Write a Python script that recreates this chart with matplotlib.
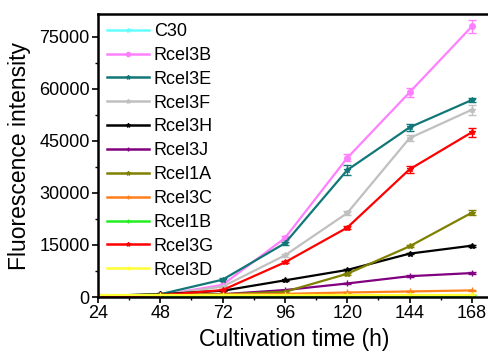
import numpy as np
import matplotlib.pyplot as plt
from matplotlib.lines import Line2D

plt.rcParams["font.family"] = ["Liberation Sans", "DejaVu Sans"]

# --- data ---
hours = [24, 48, 72, 96, 120, 144, 168]

c30 = [200, 200, 200, 200, 200, 200, 200]
rcel3b = [300, 500, 3500, 17000, 40100, 59000, 78000]
rcel3e = [300, 800, 5000, 15500, 36600, 48900, 56800]
rcel3f = [300, 500, 3000, 12000, 24200, 45800, 54000]
rcel3h = [300, 800, 1800, 4800, 7800, 12500, 14800]
rcel3j = [300, 500, 800, 2000, 3900, 6000, 6900]
rcel1a = [300, 700, 800, 1500, 6700, 14600, 24300]
rcel3c = [300, 500, 700, 900, 1300, 1600, 1900]
rcel1b = [300, 300, 300, 300, 300, 300, 300]
rcel3g = [100, 500, 2000, 10000, 20000, 36800, 47500]
rcel3d = [500, 500, 500, 500, 500, 500, 500]

# error bars (std)
err3b = [0, 0, 300, 500, 1000, 1300, 2000]
err3e = [0, 0, 400, 500, 1500, 900, 600]
err3f = [0, 0, 200, 400, 700, 800, 1500]
err3g = [0, 0, 200, 300, 500, 1000, 1300]
err1a = [0, 0, 100, 100, 300, 300, 800]
small_err = [0, 0, 100, 100, 150, 200, 250]

series = [
    ("C30", c30, small_err, "#66ffff", "*"),
    ("Rcel3B", rcel3b, err3b, "#ff80ff", "o"),
    ("Rcel3E", rcel3e, err3e, "#117777", "*"),
    ("Rcel3F", rcel3f, err3f, "#c0c0c0", "*"),
    ("Rcel3H", rcel3h, small_err, "#000000", "*"),
    ("Rcel3J", rcel3j, small_err, "#800080", "+"),
    ("Rcel1A", rcel1a, err1a, "#808000", "*"),
    ("Rcel3C", rcel3c, small_err, "#ff7f1a", "+"),
    ("Rcel1B", rcel1b, small_err, "#22ee22", "+"),
    ("Rcel3G", rcel3g, err3g, "#ff0000", "*"),
    ("Rcel3D", rcel3d, small_err, "#ffff33", "+"),
]

fig = plt.figure(figsize=(4.88, 3.52), dpi=100)
ax = fig.add_axes([98 / 488, 55 / 352, 392 / 488, 283 / 352])

handles = []
for name, vals, err, color, mk in series:
    ax.errorbar(hours, vals, yerr=err, color=color, lw=1.6, marker=mk,
                markersize=4, capsize=3, elinewidth=1.0, capthick=1.0)
    handles.append(Line2D([], [], color=color, lw=1.8, marker=mk,
                          markersize=3, label=name))

ax.set_xlim(24, 175)
ax.set_ylim(0, 81600)
ax.set_xticks(hours)
ax.set_xticks([36, 60, 84, 108, 132, 156], minor=True)
ax.set_yticks([0, 15000, 30000, 45000, 60000, 75000])
ax.set_yticks([7500, 22500, 37500, 52500, 67500], minor=True)
ax.tick_params(labelsize=13, direction="out", width=1.2, length=4, pad=2)
ax.tick_params(which="minor", direction="out", width=1.0, length=2.5)

for side in ["left", "bottom", "top"]:
    ax.spines[side].set_linewidth(1.8)
ax.spines["right"].set_visible(False)

ax.set_xlabel("Cultivation time (h)", fontsize=16.5, labelpad=4)
ax.set_ylabel("Fluorescence intensity", fontsize=16.5, labelpad=6)

leg = ax.legend(handles=handles, loc="upper left", frameon=False, fontsize=13,
                handlelength=2.3, handletextpad=0.3, labelspacing=0.38,
                borderaxespad=0.2, borderpad=0.3)

fig.savefig("out.png", dpi=100)
